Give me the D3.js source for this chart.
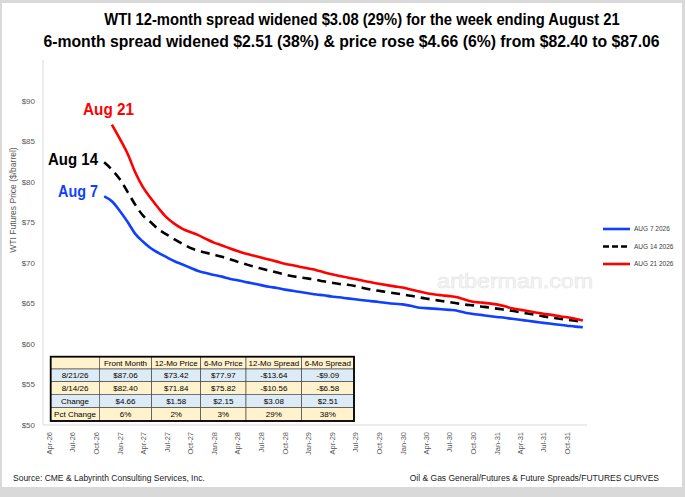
<!DOCTYPE html>
<html>
<head>
<meta charset="utf-8">
<script src="https://cdn.jsdelivr.net/npm/d3@7"></script>
<style>
  body { margin: 0; background: #fff; }
  svg { display: block; font-family: "Liberation Sans", Arial, sans-serif; }
</style>
</head>
<body>
<div id="chart"></div>
<script>
// futures curves, monthly contracts
const aug7Start = "Nov-26";
const aug7 = [78.2, 77.6, 76.4, 75.0, 73.6, 72.6, 71.8, 71.2, 70.7, 70.2, 69.8, 69.4, 69.0, 68.75, 68.5, 68.3,
  68.05, 67.85, 67.65, 67.45, 67.25, 67.05, 66.9, 66.7, 66.55, 66.4, 66.25, 66.1, 66.0, 65.85, 65.75, 65.62,
  65.5, 65.38, 65.28, 65.18, 65.05, 64.95, 64.88, 64.7, 64.5, 64.42, 64.35, 64.28, 64.2, 64.1, 63.85, 63.7,
  63.58, 63.45, 63.33, 63.22, 63.1, 62.98, 62.85, 62.72, 62.6, 62.48, 62.36, 62.25, 62.13, 62.05];

const aug14Start = "Nov-26";
const aug14 = [82.40, 81.5, 80.3, 78.7, 77.2, 75.82, 75.0, 74.1, 73.5, 72.9, 72.35, 71.84, 71.5, 71.25, 71.0, 70.75,
  70.45, 70.15, 69.85, 69.55, 69.3, 69.05, 68.8, 68.55, 68.35, 68.2, 68.05, 67.9, 67.72, 67.55, 67.4, 67.3,
  67.15, 66.9, 66.7, 66.55, 66.4, 66.25, 66.1, 65.95, 65.78, 65.6, 65.45, 65.3, 65.15, 65.0, 64.85, 64.75,
  64.62, 64.5, 64.35, 64.22, 64.1, 63.9, 63.75, 63.6, 63.4, 63.25, 63.1, 62.97, 62.85, 62.75];

const aug21Start = "Dec-26";
const aug21 = [87.06, 85.3, 83.4, 81.2, 79.3, 77.97, 76.7, 75.6, 74.8, 74.2, 73.8, 73.42, 72.95, 72.5, 72.15, 71.8,
  71.45, 71.15, 70.9, 70.65, 70.4, 70.15, 69.9, 69.7, 69.5, 69.3, 69.1, 68.85, 68.6, 68.38, 68.2, 68.0,
  67.78, 67.6, 67.42, 67.25, 67.1, 66.95, 66.72, 66.5, 66.28, 66.12, 66.0, 65.9, 65.75, 65.45, 65.2, 65.1,
  65.0, 64.88, 64.65, 64.4, 64.22, 64.05, 63.88, 63.72, 63.58, 63.42, 63.28, 63.1, 62.88];

const seriesNames = ["AUG 7 2026", "AUG 14 2026", "AUG 21 2026"];
const curveLabels = ["Aug 7", "Aug 14", "Aug 21"];

const yTicks = [50, 55, 60, 65, 70, 75, 80, 85, 90];
const xTickLabels = ["Apr-26", "Jul-26", "Oct-26", "Jan-27", "Apr-27", "Jul-27", "Oct-27", "Jan-28", "Apr-28",
  "Jul-28", "Oct-28", "Jan-29", "Apr-29", "Jul-29", "Oct-29", "Jan-30", "Apr-30", "Jul-30", "Oct-30",
  "Jan-31", "Apr-31", "Jul-31", "Oct-31"];

const tableHeader = ["", "Front Month", "12-Mo Price", "6-Mo Price", "12-Mo Spread", "6-Mo Spread"];
const tableRows = [
  ["8/21/26", "$87.06", "$73.42", "$77.97", "-$13.64", "-$9.09"],
  ["8/14/26", "$82.40", "$71.84", "$75.82", "-$10.56", "-$6.58"],
  ["Change", "$4.66", "$1.58", "$2.15", "$3.08", "$2.51"],
  ["Pct Change", "6%", "2%", "3%", "29%", "38%"]
];

const titleLines = [
  "WTI  12-month spread widened $3.08 (29%) for the week ending August 21",
  "6-month spread widened $2.51 (38%) & price rose $4.66 (6%) from $82.40 to $87.06"
];

const W = 685, H = 497;
const margin = { top: 100.7, right: 98, bottom: 72, left: 43 };
const colors = ["#0f3fff", "#000000", "#ff0000"];

const parseMonth = d3.timeParse("%b-%y");

const svg = d3.select("#chart")
  .append("svg")
  .attr("width", W)
  .attr("height", H);

svg.append("rect")
  .attr("x", 0).attr("y", 0).attr("width", W).attr("height", H)
  .attr("fill", "#d9d9d9");
svg.append("rect")
  .attr("x", 2).attr("y", 3).attr("width", W - 5).attr("height", 484)
  .attr("fill", "#fff");

const x = d3.scaleTime()
  .domain([new Date(2026, 2, 9), new Date(2031, 11, 17)])
  .range([margin.left, W - margin.right]);

const y = d3.scaleLinear()
  .domain([50, 90])
  .range([H - margin.bottom, margin.top]);

// title, squeezed horizontally to the condensed look of the original
const titleSpan = [[104, 620], [43, 660]];
svg.selectAll(".title")
  .data(titleLines)
  .enter().append("text")
  .attr("text-anchor", "middle")
  .style("font-weight", "bold")
  .style("font-size", "17px")
  .style("fill", "#000")
  .text(d => d)
  .each(function (d, i) {
    const natural = this.getComputedTextLength();
    const sx = (titleSpan[i][1] - titleSpan[i][0]) / natural;
    const cx = (titleSpan[i][0] + titleSpan[i][1]) / 2;
    d3.select(this).attr("transform", `translate(${cx},${25 + i * 22}) scale(${sx},1)`);
  });

// axes lines
svg.append("line")
  .attr("x1", margin.left).attr("x2", margin.left)
  .attr("y1", 60).attr("y2", y(50))
  .style("stroke", "#d9d9d9");
svg.append("line")
  .attr("x1", margin.left).attr("x2", W - margin.right)
  .attr("y1", y(50)).attr("y2", y(50))
  .style("stroke", "#d9d9d9");

svg.selectAll(".ytick")
  .data(yTicks)
  .enter().append("text")
  .attr("x", 35)
  .attr("y", d => y(d))
  .attr("dy", ".35em")
  .attr("text-anchor", "end")
  .style("font-size", "8px")
  .style("fill", "#595959")
  .text(d => "$" + d);

svg.append("text")
  .attr("transform", "translate(16,200) rotate(-90)")
  .attr("text-anchor", "middle")
  .style("font-size", "8.5px")
  .style("fill", "#595959")
  .text("WTI Futures  Price ($/barrel)");

svg.selectAll(".xtick")
  .data(xTickLabels)
  .enter().append("text")
  .attr("transform", d => `translate(${x(parseMonth(d)) + 3},432) rotate(-90)`)
  .attr("text-anchor", "end")
  .style("font-size", "7.5px")
  .style("fill", "#595959")
  .text(d => d);

// watermark
svg.append("text")
  .attr("x", 437)
  .attr("y", 288)
  .attr("textLength", 156)
  .attr("lengthAdjust", "spacingAndGlyphs")
  .style("font-size", "21px")
  .style("fill", "#f6f6f6")
  .style("stroke", "#e2e2e2")
  .style("stroke-width", 0.5)
  .text("artberman.com");

// curves
const series = [
  { start: aug7Start, values: aug7 },
  { start: aug14Start, values: aug14 },
  { start: aug21Start, values: aug21 }
].map((s, k) => ({
  name: seriesNames[k],
  color: colors[k],
  points: s.values.map((v, i) => [d3.timeMonth.offset(parseMonth(s.start), i), v])
}));

const line = d3.line()
  .x(d => x(d[0]))
  .y(d => y(d[1]))
  .curve(d3.curveMonotoneX);

svg.selectAll(".curve")
  .data(series)
  .enter().append("path")
  .attr("d", d => line(d.points))
  .style("fill", "none")
  .style("stroke", d => d.color)
  .style("stroke-width", 2.6)
  .style("stroke-dasharray", (d, i) => i === 1 ? "9,6" : null);

// labels at front of each curve
const labelPos = [[58, 197, 40], [48, 165, 50], [83, 115, 51]];
svg.selectAll(".clabel")
  .data(curveLabels)
  .enter().append("text")
  .attr("x", (d, i) => labelPos[i][0])
  .attr("y", (d, i) => labelPos[i][1])
  .attr("textLength", (d, i) => labelPos[i][2])
  .attr("lengthAdjust", "spacingAndGlyphs")
  .style("font-weight", "bold")
  .style("font-size", "16px")
  .style("fill", (d, i) => colors[i])
  .text(d => d);

// legend
const legend = svg.selectAll(".legend")
  .data(series)
  .enter().append("g")
  .attr("transform", (d, i) => `translate(603,${229 + i * 17.5})`);

legend.append("line")
  .attr("x1", 0).attr("x2", 27)
  .style("stroke", d => d.color)
  .style("stroke-width", 2.6)
  .style("stroke-dasharray", (d, i) => i === 1 ? "6,3" : null);

legend.append("text")
  .attr("x", 31)
  .attr("dy", ".35em")
  .style("font-size", "6.5px")
  .style("fill", "#404040")
  .text(d => d.name);

// table
const colX = [50.7, 99.3, 151.7, 200.7, 246, 301.7, 354];
const rowY = [356.7, 369, 381.7, 394.3, 407.7, 421];
const rowFill = ["#fff2cc", "#ddebf7", "#fff2cc", "#ddebf7", "#fff2cc"];
const allRows = [tableHeader].concat(tableRows);

const table = svg.append("g");
allRows.forEach((row, r) => {
  row.forEach((cell, c) => {
    table.append("rect")
      .attr("x", colX[c]).attr("y", rowY[r])
      .attr("width", colX[c + 1] - colX[c]).attr("height", rowY[r + 1] - rowY[r])
      .style("fill", rowFill[r])
      .style("stroke", "#3a3a3a")
      .style("stroke-width", 0.6);
    table.append("text")
      .attr("x", (colX[c] + colX[c + 1]) / 2)
      .attr("y", (rowY[r] + rowY[r + 1]) / 2)
      .attr("dy", ".36em")
      .attr("text-anchor", "middle")
      .style("font-size", "8px")
      .style("fill", "#000")
      .text(cell);
  });
});
table.append("rect")
  .attr("x", colX[0]).attr("y", rowY[0])
  .attr("width", colX[6] - colX[0]).attr("height", rowY[5] - rowY[0])
  .style("fill", "none")
  .style("stroke", "#000")
  .style("stroke-width", 1.8);

// footer
svg.append("text")
  .attr("x", 13).attr("y", 481)
  .style("font-size", "8.5px")
  .style("fill", "#1a1a1a")
  .text("Source: CME & Labyrinth Consulting Services, Inc.");

svg.append("text")
  .attr("x", 659).attr("y", 481)
  .attr("text-anchor", "end")
  .style("font-size", "8.5px")
  .style("fill", "#1a1a1a")
  .text("Oil & Gas General/Futures & Future Spreads/FUTURES CURVES");
</script>
</body>
</html>
